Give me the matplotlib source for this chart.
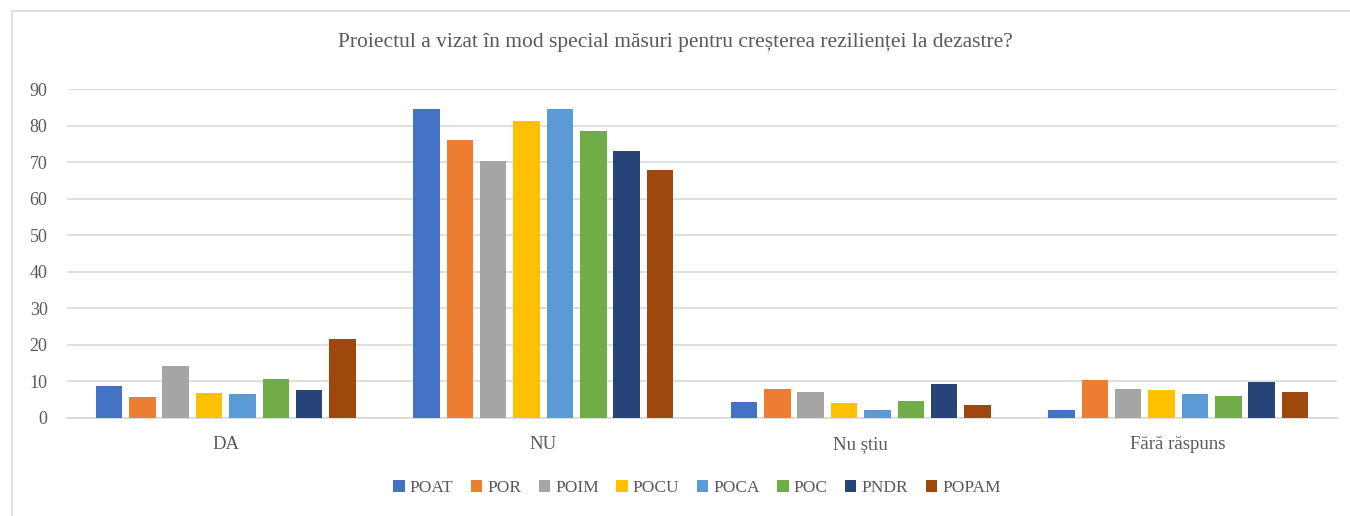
import numpy as np
import matplotlib
matplotlib.use('Agg')
import matplotlib.pyplot as plt
from matplotlib.patches import Rectangle

# Datos
categorias = ['DA', 'NU', 'Nu știu', 'Fără răspuns']
programe = ['POAT', 'POR', 'POIM', 'POCU', 'POCA', 'POC', 'PNDR', 'POPAM']
culori = ['#4472C4', '#ED7D31', '#A5A5A5', '#FFC000', '#5B9BD5', '#70AD47', '#264478', '#9E480E']

poat = [8.7, 84.7, 4.3, 2.1]
por = [5.6, 76.0, 7.8, 10.3]
poim = [14.3, 70.3, 7.0, 7.8]
pocu = [6.9, 81.2, 3.9, 7.6]
poca = [6.5, 84.5, 2.1, 6.5]
poc = [10.5, 78.6, 4.5, 5.9]
pndr = [7.6, 73.2, 9.2, 9.9]
popam = [21.5, 67.8, 3.5, 7.0]
valori = [poat, por, poim, pocu, poca, poc, pndr, popam]

text_color = '#595959'
grid_color = '#D9D9D9'
plt.rcParams['font.family'] = ['Liberation Serif', 'DejaVu Serif']

fig = plt.figure(figsize=(13.5, 5.16), dpi=100)
ax = fig.add_axes([67 / 1350, 1 - 417.7 / 516, 1270 / 1350, (417.7 - 89.3) / 516])

# Marco exterior (cortado a la derecha y abajo)
fig.patches.append(Rectangle((12 / 1350, -0.05), 1.1, 1 - 11 / 516 + 0.05,
                             transform=fig.transFigure, fill=False,
                             edgecolor=grid_color, linewidth=1.2))

x = np.arange(len(categorias))
pitch = 0.105
width = 0.0835
for i, (nume, vals, c) in enumerate(zip(programe, valori, culori)):
    offset = (i - 3.5) * pitch
    ax.bar(x + offset, vals, width=width, color=c, label=nume, zorder=3)

ax.set_xlim(-0.5, len(categorias) - 0.5)
ax.set_ylim(0, 90)
ax.set_yticks(range(0, 91, 10))
ax.yaxis.grid(True, color=grid_color, linewidth=1.2, zorder=0)
ax.set_axisbelow(True)
for s in ['top', 'right', 'left']:
    ax.spines[s].set_visible(False)
ax.spines['bottom'].set_color(grid_color)
ax.spines['bottom'].set_linewidth(1.2)
ax.tick_params(axis='both', length=0, colors=text_color)
ax.tick_params(axis='y', pad=14, labelsize=13)
ax.tick_params(axis='x', pad=13, labelsize=13.5)
ax.set_xticks(x)
ax.set_xticklabels(categorias)

fig.text(0.5, 1 - 43 / 516, 'Proiectul a vizat în mod special măsuri pentru creșterea rezilienței la dezastre?',
         ha='center', va='center', fontsize=15.5, color=text_color)

ax.legend(loc='center', bbox_to_anchor=(697 / 1350, 1 - 488 / 516), bbox_transform=fig.transFigure,
          ncol=8, frameon=False, fontsize=12.5, labelcolor=text_color,
          handlelength=0.65, handleheight=0.65, handletextpad=0.3, columnspacing=1.0)

fig.savefig('out.png', dpi=100)
